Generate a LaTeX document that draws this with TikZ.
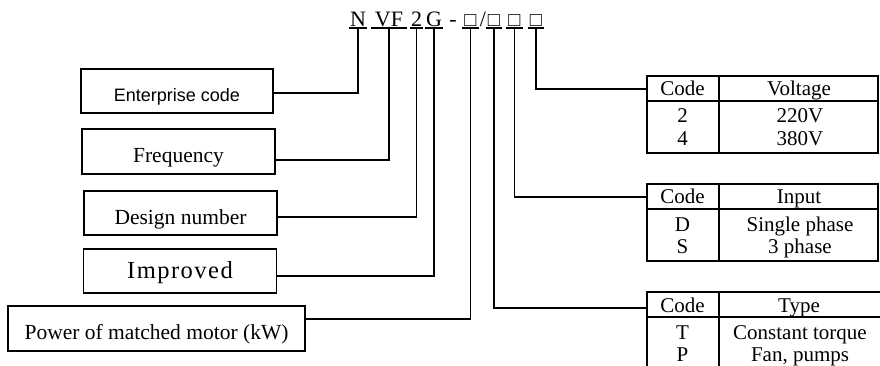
\documentclass[tikz,border=0pt]{standalone}
\usepackage{fontspec}
\setmainfont{Liberation Serif}
\newfontfamily\labelsans{Liberation Sans}
\newfontfamily\widefont[LetterSpace=6]{Liberation Serif}
\usetikzlibrary{calc}

\tikzset{
  namebox/.style={draw, line width=1.3pt, minimum width=193pt, inner sep=0pt,
    text height=33pt, text depth=11pt, font=\fontsize{21.5}{24}\selectfont},
  codepart/.style={inner xsep=1pt, inner ysep=1pt, text depth=0pt, anchor=south,
    font=\fontsize{22}{24}\selectfont},
  codebox/.style={codepart, minimum width=16pt, inner ysep=1.5pt, font=\fontsize{20}{22}\selectfont},
  underline/.style={line width=1.6pt},
  link/.style={line width=1.7pt},
  tabframe/.style={draw, line width=1.8pt, minimum height=77pt, inner sep=0pt, anchor=north west},
  cell/.style={anchor=base, inner sep=0pt, font=\fontsize{21}{24}\selectfont},
}

\begin{document}
\begin{tikzpicture}[x=1pt,y=-1pt]
  \useasboundingbox (0,0) rectangle (880,366);

  % model code
  \node[codepart] (N) at (358,28) {N};
  \node[codepart, inner xsep=3.5pt] (VF) at (389,28) {VF};
  \node[codepart, inner xsep=0.5pt] (two) at (416.5,28) {2};
  \node[codepart] (G) at (434,28) {G};
  \node[codepart] (dash) at (453,28) {-};
  \node[codebox] (b1) at (470.5,28) {□};
  \node[codepart] (slash) at (483,28) {/};
  \node[codebox] (b2) at (494,28) {□};
  \node[codebox] (b3) at (514.5,28) {□};
  \node[codebox] (b4) at (536,28) {□};
  \foreach \part in {N,VF,two,G,b1,b2,b3,b4}
    \draw[underline] (\part.south west) -- (\part.south east);

  % left boxes
  \node[namebox, minimum width=192pt, font=\labelsans\fontsize{18}{20}\selectfont] (ent) at (177,91) {Enterprise code};
  \node[namebox, minimum height=45pt] (freq) at (178.5,151.5) {Frequency};
  \node[namebox] (design) at (180.5,213) {Design number};
  \node[namebox, text height=29pt, text depth=15pt, font=\widefont\fontsize{24.5}{26}\selectfont] (impr) at (180,271) {Improved};
  \node[namebox, minimum width=297pt, minimum height=45pt] (power) at (156.5,328.5) {Power of matched motor (kW)};

  % tables
  \foreach \name/\top/\tabw/\head/\ra/\rb/\rc/\rd in {
      volt/75/231/Voltage/2/220V/4/380V,
      inp/183/231/Input/D/Single phase/S/3 phase,
      type/291/240/Type/T/Constant torque/P/{Fan, pumps}}{
    \node[tabframe, minimum width=\tabw pt] (\name) at (646,\top) {};
    \draw[line width=1.5pt] (646,\top+26) -- (646+\tabw,\top+26);
    \draw[line width=1.5pt] (719,\top) -- (719,\top+77);
    \node[cell] at (682.5,\top+21) {Code};
    \node[cell] at (799,\top+21) {\head};
    \node[cell] at (682.5,\top+48) {\ra};
    \node[cell] at (800,\top+48) {\rb};
    \node[cell] at (682.5,\top+70.5) {\rc};
    \node[cell] at (800,\top+70.5) {\rd};
  }

  % connectors
  \draw[link] (N.south) |- ([yshift=-2pt]ent.east);
  \draw[link] (VF.south) |- ([yshift=-8.5pt]freq.east);
  \draw[link] (two.south) |- ([yshift=-4pt]design.east);
  \draw[link] (G.south) |- ([yshift=-5pt]impr.east);
  \draw[link] (b1.south) |- ([yshift=9.5pt]power.east);
  \draw[link] (b2.south) |- ([yshift=-17pt]type.north west);
  \draw[link] (b3.south) |- ([yshift=-14pt]inp.north west);
  \draw[link] (b4.south) |- ([yshift=-14pt]volt.north west);
\end{tikzpicture}
\end{document}
